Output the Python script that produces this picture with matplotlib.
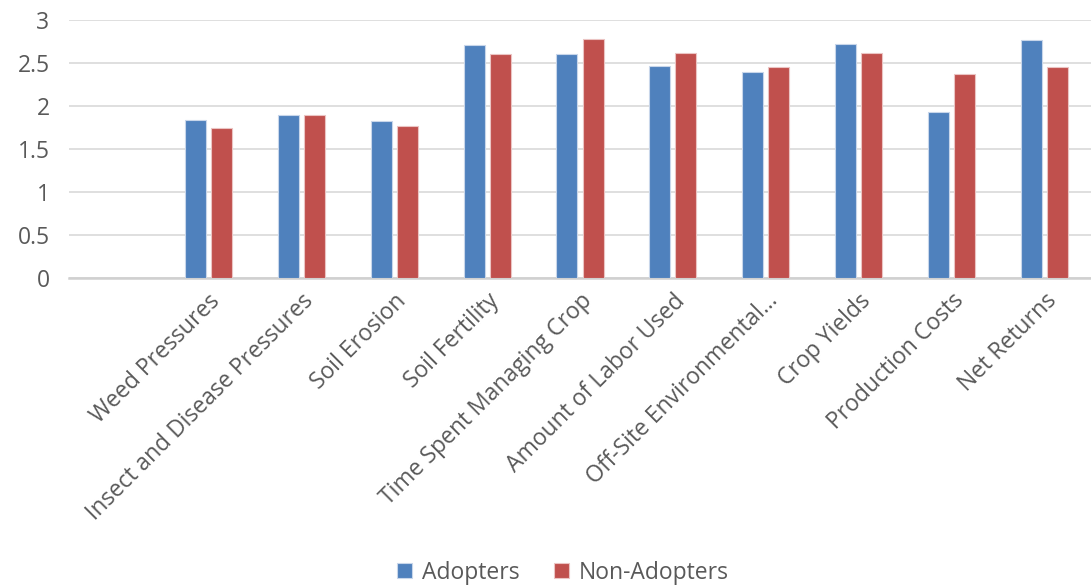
import numpy as np
import matplotlib
matplotlib.use("Agg")
import matplotlib.pyplot as plt

# ---- datos ----
categorias = ["Weed Pressures", "Insect and Disease Pressures", "Soil Erosion",
              "Soil Fertility", "Time Spent Managing Crop", "Amount of Labor Used",
              "Off-Site Environmental\u2026", "Crop Yields", "Production Costs",
              "Net Returns"]
adopters = [1.84, 1.90, 1.82, 2.71, 2.60, 2.46, 2.40, 2.72, 1.93, 2.77]
non_adopters = [1.75, 1.89, 1.77, 2.61, 2.78, 2.62, 2.45, 2.62, 2.37, 2.45]
yticks = [0, 0.5, 1, 1.5, 2, 2.5, 3]
ylabels = ["0", "0.5", "1", "1.5", "2", "2.5", "3"]

plt.rcParams['font.family'] = ['Open Sans', 'DejaVu Sans']
gris = "#595959"

fig = plt.figure(figsize=(10.91, 5.86), dpi=100)
ax = fig.add_axes([69 / 1091, 1 - 278 / 586, 1022 / 1091, 258 / 586])

# hay una primera categoría vacía en el original
x = np.arange(1, len(categorias) + 1)
ancho = 0.226
desp = 0.14
ax.bar(x - desp, adopters, ancho, color="#4F81BD", edgecolor="#c8d6ea",
       linewidth=0.8, label="Adopters", zorder=3)
ax.bar(x + desp, non_adopters, ancho, color="#C0504D", edgecolor="#ebc4c3",
       linewidth=0.8, label="Non-Adopters", zorder=3)

ax.set_xlim(-0.5, len(categorias) + 0.5)
ax.set_ylim(0, 3)
ax.set_yticks(yticks)
ax.set_yticklabels(ylabels, fontsize=16.5, color=gris)
ax.set_xticks(x)
ax.set_xticklabels(categorias, rotation=45, ha="right", va="top",
                   rotation_mode="anchor", fontsize=16.5, color=gris)
ax.tick_params(axis="both", length=0)
ax.tick_params(axis="y", pad=14)
ax.tick_params(axis="x", pad=8)

ax.grid(axis="y", color="#d9d9d9", linewidth=1.2, zorder=0)
for lado in ["top", "right", "left"]:
    ax.spines[lado].set_visible(False)
ax.spines["bottom"].set_color("#d0d0d0")
ax.spines["bottom"].set_linewidth(1.8)

fig.legend(loc="lower center", bbox_to_anchor=(0.516, -0.033), ncol=2,
           frameon=False, fontsize=16.5, labelcolor=gris, handlelength=0.65,
           handleheight=0.65, handletextpad=0.45, columnspacing=1.5)

fig.savefig("out.png", dpi=100)
